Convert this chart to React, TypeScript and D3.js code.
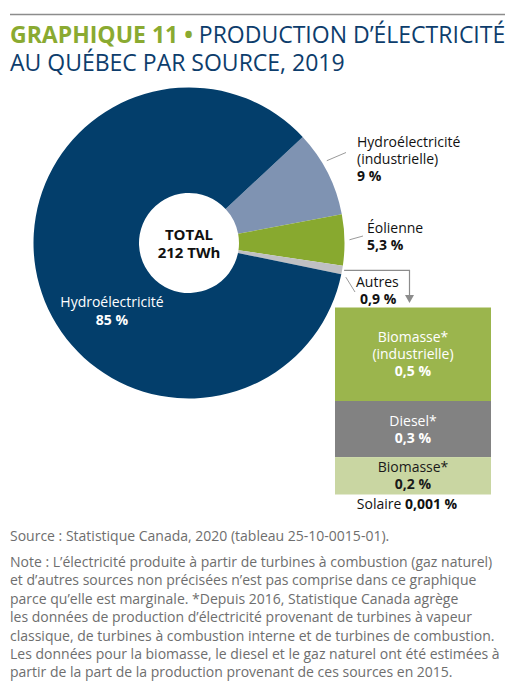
import React, { useEffect, useRef } from 'react';
import * as d3 from 'd3';

// pie: production par source (%)
const pieNames = [
  ['Hydroélectricité', '(industrielle)'],
  ['Éolienne'],
  ['Autres'],
  ['Hydroélectricité'],
];
const pieValues = [9, 5.3, 0.9, 85];
const pieColors = ['#7f93b2', '#88a92f', '#bfc0c3', '#033e6b'];

// détail de « Autres »
const barNames = [['Biomasse*', '(industrielle)'], ['Diesel*'], ['Biomasse*']];
const barValues = [0.5, 0.3, 0.2];
const barColors = ['#9bb54d', '#828282', '#c9d6a2'];
const barText = ['#ffffff', '#ffffff', '#1a1a1a'];
const solaireValue = 0.001;

const totalLabel = ['TOTAL', '212 TWh'];

const noteLines = [
  'Note : L’électricité produite à partir de turbines à combustion (gaz naturel)',
  'et d’autres sources non précisées n’est pas comprise dans ce graphique',
  'parce qu’elle est marginale. *Depuis 2016, Statistique Canada agrège',
  'les données de production d’électricité provenant de turbines à vapeur',
  'classique, de turbines à combustion interne et de turbines de combustion.',
  'Les données pour la biomasse, le diesel et le gaz naturel ont été estimées à',
  'partir de la part de la production provenant de ces sources en 2015.',
];

const W = 519;
const H = 698;
const FONT = '"Open Sans", "Noto Sans", sans-serif';
const NAVY = '#0d3d6c';
const GREEN = '#8aaa31';

const pct = (v: number) => `${String(v).replace('.', ',')}\u00a0%`;

const App = () => {
  const ref = useRef<SVGSVGElement>(null);

  useEffect(() => {
    if (!ref.current) return;
    const svg = d3.select(ref.current);
    svg.selectAll('*').remove();
    svg.attr('font-family', FONT);

    // top rule + title
    svg
      .append('line')
      .attr('x1', 10)
      .attr('x2', 505)
      .attr('y1', 14.5)
      .attr('y2', 14.5)
      .attr('stroke', '#8c8c8c')
      .attr('stroke-width', 1.5);

    const title = svg.append('text').attr('font-size', 23).attr('fill', NAVY);
    const t1 = title.append('tspan').attr('x', 10).attr('y', 43);
    t1.append('tspan').attr('fill', GREEN).attr('font-weight', 700).text('GRAPHIQUE 11 • ');
    t1.append('tspan').text('PRODUCTION D’ÉLECTRICITÉ');
    title.append('tspan').attr('x', 10).attr('y', 71).text('AU QUÉBEC PAR SOURCE, 2019');

    // pie
    const cx = 189;
    const cy = 243;
    const r = 155.5;
    const r0 = 50;
    const start = (47 * Math.PI) / 180;
    const pie = d3
      .pie<number>()
      .sort(null)
      .startAngle(start)
      .endAngle(start + 2 * Math.PI);
    const arcs = pie(pieValues);
    const arc = d3.arc<d3.PieArcDatum<number>>().innerRadius(r0).outerRadius(r);
    const g = svg.append('g').attr('transform', `translate(${cx},${cy})`);
    g.selectAll('path')
      .data(arcs)
      .join('path')
      .attr('d', arc)
      .attr('fill', (_, i) => pieColors[i]);

    const center = g.append('text').attr('text-anchor', 'middle').attr('font-size', 15).attr('font-weight', 700).attr('fill', '#111');
    center.append('tspan').attr('x', 0).attr('y', -3).text(totalLabel[0]);
    center.append('tspan').attr('x', 0).attr('y', 15).text(totalLabel[1]);

    const pt = (a: number, rr: number) => [Math.sin(a) * rr + cx, -Math.cos(a) * rr + cy];

    // outside labels (first three slices)
    const labelPos = [
      { x: 357, y: 147, lead: [346, 152.5], angleShift: -0.07 },
      { x: 367, y: 233, lead: [363, 236], angleShift: 0 },
      { x: 356, y: 287, lead: [355, 292], angleShift: 0.04 },
    ];
    labelPos.forEach((p, i) => {
      const a = (arcs[i].startAngle + arcs[i].endAngle) / 2 + p.angleShift;
      const [sx, sy] = pt(a, r + 5);
      svg
        .append('line')
        .attr('x1', sx)
        .attr('y1', sy)
        .attr('x2', p.lead[0])
        .attr('y2', p.lead[1])
        .attr('stroke', '#9a9a9a')
        .attr('stroke-width', 1);
      const t = svg.append('text').attr('font-size', 14).attr('fill', '#111');
      pieNames[i].forEach((s, j) => {
        t.append('tspan').attr('x', p.x).attr('y', p.y + j * 17).text(s);
      });
      t.append('tspan')
        .attr('x', i === 2 ? p.x + 4 : p.x)
        .attr('y', p.y + pieNames[i].length * 17)
        .attr('font-weight', 700)
        .text(pct(pieValues[i]));
    });

    // hydro label inside
    const hy = svg.append('text').attr('text-anchor', 'middle').attr('font-size', 14).attr('fill', '#fff');
    hy.append('tspan').attr('x', 112).attr('y', 307).text(pieNames[3][0]);
    hy.append('tspan').attr('x', 112).attr('y', 325).attr('font-weight', 700).text(pct(pieValues[3]));

    // stacked bar detailing "Autres"
    const bx0 = 335;
    const bx1 = 491;
    const stackEnds = d3.cumsum(barValues);
    const y = d3
      .scaleLinear()
      .domain([0, stackEnds[stackEnds.length - 1]])
      .range([307.5, 494.5]);
    const bars = svg.append('g');
    barValues.forEach((v, i) => {
      const y0 = y(stackEnds[i] - v);
      const y1 = y(stackEnds[i]);
      bars
        .append('rect')
        .attr('x', bx0)
        .attr('y', y0)
        .attr('width', bx1 - bx0)
        .attr('height', y1 - y0)
        .attr('fill', barColors[i]);
      const lines = [...barNames[i], pct(v)];
      const lh = 17;
      const mid = (y0 + y1) / 2;
      const first = mid - ((lines.length - 1) * lh) / 2 + 5;
      const t = bars.append('text').attr('text-anchor', 'middle').attr('font-size', 14).attr('fill', barText[i]);
      lines.forEach((s, j) => {
        t.append('tspan')
          .attr('x', (bx0 + bx1) / 2)
          .attr('y', first + j * lh)
          .attr('font-weight', j === lines.length - 1 ? 700 : 400)
          .text(s);
      });
    });
    const sol = svg.append('text').attr('text-anchor', 'middle').attr('font-size', 14).attr('fill', '#111').attr('x', 407).attr('y', 508.5);
    sol.append('tspan').text('Solaire ');
    sol.append('tspan').attr('font-weight', 700).text(pct(solaireValue));

    // arrow from "Autres" slice to bar
    const aMid = (arcs[2].startAngle + arcs[2].endAngle) / 2;
    const [ax, ay] = pt(aMid, r + 2);
    const arrowX = 409.5;
    svg
      .append('path')
      .attr('d', `M${ax},${ay}H${arrowX}V${296}`)
      .attr('fill', 'none')
      .attr('stroke', '#8c8c8c')
      .attr('stroke-width', 1.2);
    svg
      .append('path')
      .attr('d', `M${arrowX - 4.5},${295}L${arrowX + 4.5},${295}L${arrowX},${303}Z`)
      .attr('fill', '#8c8c8c');

    // source + note
    const foot = svg.append('text').attr('font-size', 14).attr('fill', '#6e6e6e');
    foot.append('tspan').attr('x', 10).attr('y', 541).text('Source : Statistique Canada, 2020 (tableau 25-10-0015-01).');
    noteLines.forEach((s, i) => {
      foot.append('tspan').attr('x', 10).attr('y', 567 + i * 18.4).text(s);
    });
  }, []);

  return (
    <svg
      ref={ref}
      width={W}
      height={H}
      viewBox={`0 0 ${W} ${H}`}
      style={{ position: 'absolute', left: 0, top: 0, background: '#fff' }}
    />
  );
};

export default App;
